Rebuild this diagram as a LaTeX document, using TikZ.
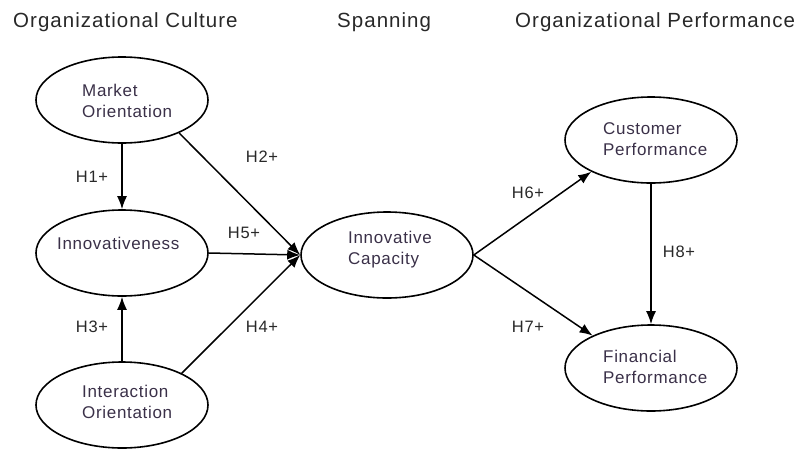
\documentclass[tikz,border=0pt]{standalone}
\usepackage{fontspec}
\setmainfont{Liberation Sans}
\usetikzlibrary{shapes.geometric,arrows.meta}
\definecolor{inktext}{RGB}{58,48,72}
\definecolor{headtext}{RGB}{40,40,40}
\begin{document}
\begin{tikzpicture}[x=1pt,y=-1pt,
  oval/.style={ellipse,draw=black,line width=1.6pt,minimum width=172pt,minimum height=86pt,inner sep=0pt},
  intext/.style={anchor=west,align=left,inner sep=0pt,text=inktext,
    font=\fontsize{17}{21}\selectfont\addfontfeature{LetterSpace=4}},
  head/.style={anchor=base west,inner sep=0pt,text=headtext,
    font=\fontsize{20.5}{24}\selectfont\addfontfeature{LetterSpace=5}},
  hyp/.style={inner sep=0pt,text=headtext,
    font=\fontsize{16.5}{20}\selectfont\addfontfeature{LetterSpace=4}},
  link/.style={line width=1.5pt,-{Latex[length=13pt,width=10pt]}}]
\useasboundingbox (0,0) rectangle (805,450);

% column headings
\node[head] (h1) at (13,27) {Organizational Culture};
\node[head] (h2) at (337,27) {Spanning};
\node[head] (h3) at (515,27) {Organizational Performance};

% constructs
\node[oval] (mo) at (122,100) {};
\node[oval] (in) at (122,253) {};
\node[oval] (io) at (122,405) {};
\node[oval] (ic) at (387,255) {};
\node[oval] (cp) at (651,140) {};
\node[oval] (fp) at (651,368) {};

\node[intext] (mot) at (82,101) {Market\\Orientation};
\node[intext] (int) at (57,243) {Innovativeness};
\node[intext] (iot) at (82,402) {Interaction\\Orientation};
\node[intext] (ict) at (348,250) {Innovative\\Capacity};
\node[intext] (cpt) at (603,139) {Customer\\Performance};
\node[intext] (fpt) at (603,367) {Financial\\Performance};

% hypothesised paths
\draw[link] (mo.south) -- (in.north);
\draw[link] (io.north) -- (in.south);
\draw[link] (mo.-30) -- (ic.west);
\draw[link] (in.east) -- (ic.west);
\draw[link] (io.28) -- (ic.west);
\draw[link] (ic.east) -- (cp.208);
\draw[link] (ic.east) -- (fp.151);
\draw[link] (cp.south) -- (fp.north);

% path labels
\node[hyp] (l1) at (92,177) {H1+};
\node[hyp] (l2) at (262,157) {H2+};
\node[hyp] (l5) at (244,233) {H5+};
\node[hyp] (l3) at (92,327) {H3+};
\node[hyp] (l4) at (262,327) {H4+};
\node[hyp] (l6) at (528,193) {H6+};
\node[hyp] (l7) at (528,327) {H7+};
\node[hyp] (l8) at (679,252) {H8+};
\end{tikzpicture}
\end{document}
